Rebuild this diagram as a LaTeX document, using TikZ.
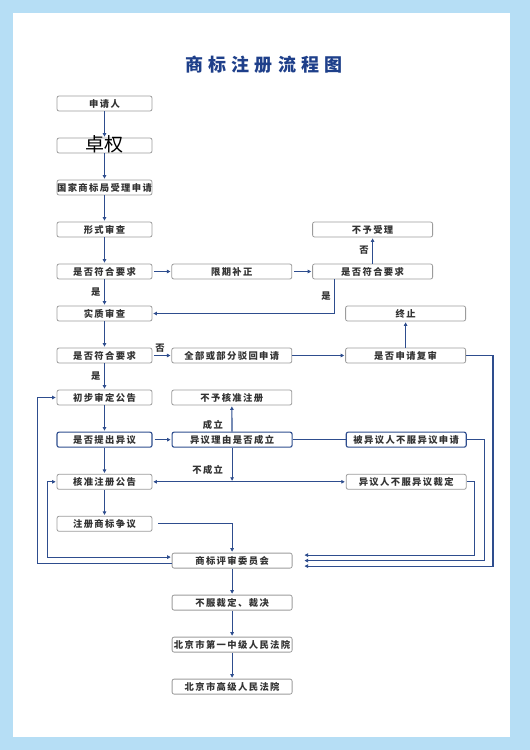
\documentclass[tikz,border=0pt]{standalone}
\usepackage{fontspec}
\setmainfont{Noto Sans CJK SC}[LetterSpace=15]
\newfontfamily\titlefont{Noto Sans CJK SC}[LetterSpace=28]
\newfontfamily\plainfont{Noto Sans CJK SC}
\usetikzlibrary{arrows.meta,positioning}
\definecolor{bgblue}{HTML}{B6DEF5}
\definecolor{lineblue}{HTML}{2E4D8E}
\definecolor{titleblue}{HTML}{1E3F8A}
\definecolor{boxgray}{HTML}{9C9C9C}
\definecolor{txtgray}{HTML}{333333}

\begin{document}
\begin{tikzpicture}[
  x=1bp, y=-1bp,
  font=\fontsize{9.3bp}{11bp}\selectfont\bfseries,
  box/.style={draw=boxgray, line width=0.8bp, rounded corners=2bp, fill=white, text=txtgray, minimum height=15bp, inner sep=0pt, align=center},
  lbox/.style={box, minimum width=95bp},
  wbox/.style={box, minimum width=120bp},
  hbox/.style={draw=lineblue, line width=1.1bp},
  lbl/.style={text=txtgray, inner sep=1.5bp},
  arr/.style={-{Triangle[length=3.5bp,width=3.5bp]}, lineblue, line width=1.1bp, shorten >=1bp},
  dbl/.style={{Triangle[length=3.5bp,width=3.5bp]}-{Triangle[length=3.5bp,width=3.5bp]}, lineblue, line width=1.1bp, shorten >=1bp, shorten <=1bp},
  conn/.style={lineblue, line width=1.1bp},
  node distance=26.2bp
]
% page
\fill[bgblue] (0,0) rectangle (530,750);
\fill[white] (13,13) rectangle (510,737);
\useasboundingbox (0,0) rectangle (530,750);

\node[font=\titlefont\fontsize{18bp}{18bp}\selectfont\bfseries, text=titleblue] (title) at (264,65) {商标注册流程图};

% left column
\node[lbox] (sqr) at (104.5,103.5) {申请人};
\node[lbox, below=of sqr, font=\plainfont\fontsize{19bp}{19bp}\selectfont, text=black, text height=13.5bp, text depth=1.5bp] (zq) {卓权};
\node[lbox, below=of zq] (sl) {国家商标局受理申请};
\node[lbox, below=of sl] (xs) {形式审查};
\node[lbox, below=of xs] (fh1) {是否符合要求};
\node[wbox, right=19bp of fh1] (bz) {限期补正};
\node[wbox, right=20bp of bz] (fh2) {是否符合要求};
\node[wbox, above=of fh2] (bysl) {不予受理};
\node[lbox, below=of fh1] (sz) {实质审查};
\node[lbox, below=of sz] (fh3) {是否符合要求};
\node[wbox, right=19bp of fh3] (bh) {全部或部分驳回申请};
\node[wbox, right=53bp of bh] (fs) {是否申请复审};
\node[wbox, above=of fs] (zz) {终止};
\node[lbox, below=of fh3] (cs) {初步审定公告};
\node[wbox, right=19bp of cs] (bhz) {不予核准注册};
\node[lbox, hbox, below=of cs] (yy) {是否提出异议};
\node[wbox, hbox, right=19bp of yy] (ly) {异议理由是否成立};
\node[wbox, hbox, right=53bp of ly] (byy) {被异议人不服异议申请};
\node[lbox, below=of yy] (hz) {核准注册公告};
\node[wbox, below=of byy] (yyr) {异议人不服异议裁定};
\node[lbox, below=of hz] (zy) {注册商标争议};
\coordinate (c) at (ly |- zy.south);
\node[wbox, below=21bp of c] (ps) {商标评审委员会};
\node[wbox, below=of ps] (bf) {不服裁定、裁决};
\node[wbox, below=of bf] (zy1) {北京市第一中级人民法院};
\node[wbox, below=of zy1] (gy) {北京市高级人民法院};

% connectors
\draw[arr] (sqr) -- (zq);
\draw[arr] (zq) -- (sl);
\draw[arr] (sl) -- (xs);
\draw[arr] (xs) -- (fh1);
\draw[arr] (fh1) -- node[lbl, left=2bp] {是} (sz);
\draw[arr, shorten <=2bp] (fh1) -- (bz);
\draw[arr, shorten <=2bp] (bz) -- (fh2);
\draw[arr] (fh2) -- node[lbl, left=2bp] {否} (bysl);
\draw[arr] ([xshift=-38bp]fh2.south) |- node[lbl, pos=0.25, left=2bp] {是} (sz);
\draw[arr] (sz) -- (fh3);
\draw[arr, shorten <=2bp] (fh3) -- node[lbl, pos=0.4, above=1bp] {否} (bh);
\draw[arr] (bh) -- (fs);
\draw[arr] (fs) -- (zz);
\draw[arr] (fs.east) -- ++(27,0) |- ([xshift=11bp,yshift=-5.5bp]ps.east);
\draw[arr] (fh3) -- node[lbl, left=2bp] {是} (cs);
\draw[arr] (cs) -- (yy);
\draw[arr, shorten <=2bp] (yy) -- (ly);
\draw[arr] (ly) -- node[lbl, pos=0.25, left=7bp] {成立} (bhz);
\draw[conn] (ly) -- (byy);
\draw[arr] (ly) -- node[lbl, pos=0.65, left=7bp] {不成立} (ly |- hz);
\draw[dbl] (hz) -- (yyr);
\draw[arr] (yy) -- (hz);
\draw[arr] (hz) -- (zy);
\draw[arr] (yyr.east) -- ++(8,0) |- ([xshift=11bp,yshift=5.5bp]ps.east);
\draw[arr] (byy.east) -- ++(18,0) |- ([xshift=11bp]ps.east);
\draw[arr, shorten <=6bp] (zy) -| (ps);
\draw[dbl] (hz.west) -- ++(-9,0) |- ([yshift=3.5bp]ps.west);
\draw[arr] ([yshift=-2.5bp]ps.west) -| ([xshift=-19bp]cs.west) -- (cs);
\draw[arr] (ps) -- (bf);
\draw[arr] (bf) -- (zy1);
\draw[arr] (zy1) -- (gy);
\end{tikzpicture}
\end{document}
